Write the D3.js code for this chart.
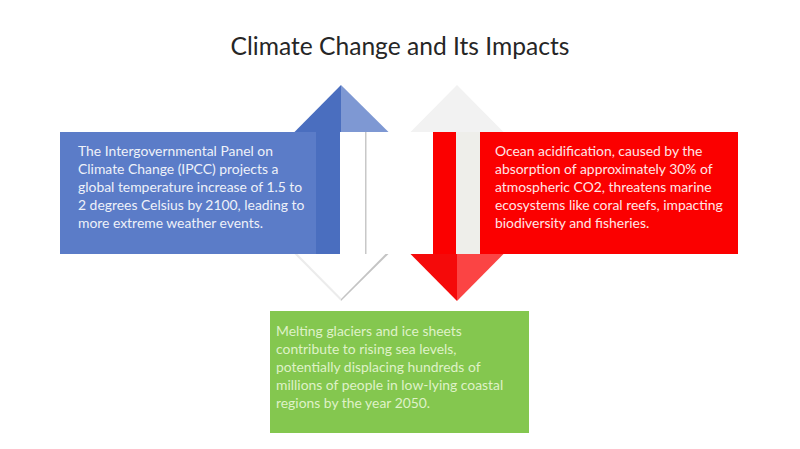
<!DOCTYPE html>
<html>
<head>
<meta charset="utf-8">
<title>Climate Change and Its Impacts</title>
<script src="https://cdn.jsdelivr.net/npm/d3@7"></script>
<style>
  html, body { margin: 0; padding: 0; background: #fff; }
  svg { display: block; }
  text { font-family: Lato, "Open Sans", sans-serif; }
</style>
</head>
<body>
<svg id="chart" width="800" height="449"></svg>
<script>
//Text of the slide
var chartTitle = "Climate Change and Its Impacts";
var blueLines = [
  "The Intergovernmental Panel on",
  "Climate Change (IPCC) projects a",
  "global temperature increase of 1.5 to",
  "2 degrees Celsius by 2100, leading to",
  "more extreme weather events."
];
var redLines = [
  "Ocean acidification, caused by the",
  "absorption of approximately 30% of",
  "atmospheric CO2, threatens marine",
  "ecosystems like coral reefs, impacting",
  "biodiversity and fisheries."
];
var greenLines = [
  "Melting glaciers and ice sheets",
  "contribute to rising sea levels,",
  "potentially displacing hundreds of",
  "millions of people in low-lying coastal",
  "regions by the year 2050."
];

var svg = d3.select("#chart");
var line = d3.line();

//Layout of the two arrows and three boxes
var arrowL = 341, arrowR = 457, halfHead = 46.5, halfStem = 24;
var rowTop = 132, rowBottom = 254, tipTop = 85, tipBottom = 301;

//Soft shadow behind the white and grey shapes
var defs = svg.append("defs");
defs.append("filter").attr("id", "soft").attr("x", "-20%").attr("y", "-20%").attr("width", "140%").attr("height", "140%")
  .append("feGaussianBlur").attr("stdDeviation", 0.7);

function tri(pts, fill, g) {
  return (g || svg).append("path").attr("d", line(pts) + "Z").attr("fill", fill);
}

//Left arrow, up head then down head
tri([[arrowL - halfHead, rowTop], [arrowL, tipTop], [arrowL, rowTop]], "#4a6ebf");
tri([[arrowL, rowTop], [arrowL, tipTop], [arrowL + halfHead + 1, rowTop]], "#7e98d3");
tri([[arrowL - halfHead, rowBottom], [arrowL, tipBottom], [arrowL, rowBottom]], "#ececec").attr("filter", "url(#soft)");
tri([[arrowL - halfHead + 3, rowBottom], [arrowL, tipBottom - 3], [arrowL, rowBottom]], "#ffffff");
tri([[arrowL, rowBottom], [arrowL, tipBottom], [arrowL + halfHead + 1, rowBottom]], "#c4c4c4").attr("filter", "url(#soft)");
tri([[arrowL, rowBottom], [arrowL, tipBottom - 2], [arrowL + halfHead - 2, rowBottom]], "#ffffff");

//Right arrow, the up head is pale and the down head red
tri([[arrowR - halfHead, rowTop], [arrowR, tipTop], [arrowR + halfHead, rowTop]], "#f2f2f2").attr("filter", "url(#soft)");
tri([[arrowR - halfHead, rowBottom], [arrowR, tipBottom], [arrowR, rowBottom]], "#f50a0a");
tri([[arrowR, rowBottom], [arrowR, tipBottom], [arrowR + halfHead, rowBottom]], "#fb4444");

//Boxes
var boxes = [
  { x: 60, w: 280, y: rowTop, h: rowBottom - rowTop, fill: "#5b7cc8" },
  { x: 433, w: 305, y: rowTop, h: rowBottom - rowTop, fill: "#fb0000" },
  { x: 270, w: 259, y: 311, h: 122, fill: "#84c74f" }
];
svg.selectAll("rect.box").data(boxes).enter().append("rect")
  .attr("class", "box")
  .attr("x", d => d.x).attr("y", d => d.y)
  .attr("width", d => d.w).attr("height", d => d.h)
  .attr("fill", d => d.fill);

//Arrow stems over the boxes
svg.append("rect").attr("x", arrowL - 25).attr("y", rowTop).attr("width", 24).attr("height", rowBottom - rowTop).attr("fill", "#4a6ebf");
svg.append("rect").attr("x", arrowL + 24).attr("y", rowTop).attr("width", 1.5).attr("height", rowBottom - rowTop).attr("fill", "#c8c8c8");
svg.append("rect").attr("x", arrowR - 1).attr("y", rowTop).attr("width", halfStem).attr("height", rowBottom - rowTop).attr("fill", "#eeeeea");

//Text blocks
function textBlock(lines, x, y, size, fill) {
  svg.append("g").selectAll("text").data(lines).enter().append("text")
    .attr("x", x)
    .attr("y", (d, i) => y + i * 18.2)
    .attr("font-size", size)
    .attr("fill", fill)
    .text(d => d);
}
textBlock(blueLines, 78, 155.5, 13.9, "#eef1f9");
textBlock(redLines, 495, 155.5, 13.9, "#ffe6e6");
textBlock(greenLines, 276, 335.5, 13.9, "#dff2c8");

svg.append("text")
  .attr("x", 400).attr("y", 54.5)
  .attr("text-anchor", "middle")
  .attr("font-size", 24.6)
  .attr("fill", "#262626")
  .text(chartTitle);
</script>
</body>
</html>
